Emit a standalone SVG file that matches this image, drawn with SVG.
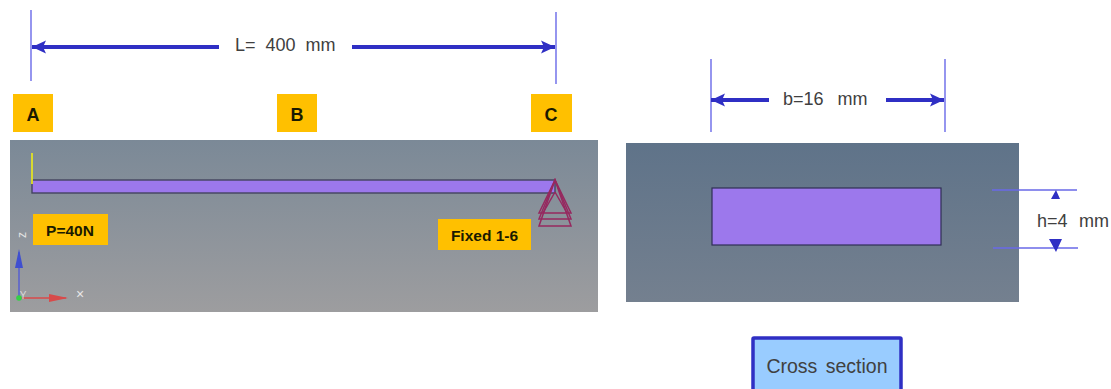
<svg xmlns="http://www.w3.org/2000/svg" width="1111" height="389" viewBox="0 0 1111 389">
<defs>
<linearGradient id="g1" x1="0" y1="0" x2="0" y2="1"><stop offset="0" stop-color="#7b8997"/><stop offset="1" stop-color="#9d9d9f"/></linearGradient>
<linearGradient id="g2" x1="0" y1="0" x2="0" y2="1"><stop offset="0" stop-color="#5f7389"/><stop offset="1" stop-color="#74808f"/></linearGradient>
<marker id="ah" markerUnits="userSpaceOnUse" markerWidth="15" markerHeight="14" refX="14" refY="7" orient="auto-start-reverse"><path d="M0 0.5L14 7L0 13.5L3 7Z" fill="#2f2fc4"/></marker>
</defs>
<style>
text{font-family:"Liberation Sans",Arial,sans-serif}
.lbl{fill:#404040;font-size:18px}
.tag{fill:#1a1a00;font-weight:bold;text-anchor:middle}
.box{fill:#ffc000}
.thin{stroke:#6a6ae8;stroke-width:1.4;fill:none}
.dim{stroke:#2f2fc4;stroke-width:4;fill:none}
.sup{stroke:#96285f;stroke-width:1.5;fill:none}
</style>
<g id="beam-view">
<rect x="10" y="140" width="588" height="172" fill="url(#g1)"/>
<rect x="32" y="180" width="523" height="13" fill="#9c78ec" stroke="#44445f" stroke-width="1.4"/>
</g>
<g id="support">
<path class="sup" d="M555 180L539 213H571Z"/><path class="sup" d="M555 180L539 219H571Z"/><path class="sup" d="M555 180L539 226H571Z"/><path class="sup" d="M555 192L543 213"/><path class="sup" d="M555 192L567 213"/>
</g>
<g id="load"><path d="M32 153V184" stroke="#e2e225" stroke-width="1.8"/></g>
<g id="axes">
<path d="M19 297V252" stroke="#4d57d8" stroke-width="1.3"/><path d="M19 249L15 268H23Z" fill="#3f4fd0"/>
<path d="M19 298H66" stroke="#d84a4a" stroke-width="1.3"/><path d="M68 298L49 294V302Z" fill="#d84a4a"/>
<circle cx="19" cy="298" r="2.8" fill="#35d045"/>
<text x="22" y="241" font-size="12" fill="#e4e4e4" text-anchor="middle" transform="rotate(-90 21 236)">z</text>
<text x="23" y="299" font-size="10" fill="#d8d8d8" text-anchor="middle">Y</text>
<text x="80" y="299" font-size="14" fill="#e8e8e8" text-anchor="middle">×</text>
</g>
<g id="node-a"><rect class="box" x="13" y="94" width="40" height="38"/><text class="tag" x="33" y="121" font-size="18">A</text></g>
<g id="node-b"><rect class="box" x="277" y="94" width="40" height="38"/><text class="tag" x="297" y="121" font-size="18">B</text></g>
<g id="node-c"><rect class="box" x="531" y="94" width="41" height="38"/><text class="tag" x="551" y="121" font-size="18">C</text></g>
<g id="node-p"><rect class="box" x="33" y="214" width="75" height="31"/><text class="tag" x="70" y="235.500" font-size="15.500">P=40N</text></g>
<g id="node-fixed"><rect class="box" x="438" y="219" width="93" height="31"/><text class="tag" x="484.500" y="240.500" font-size="15.500">Fixed 1-6</text></g>
<g id="section-view">
<rect x="626" y="143" width="393" height="159" fill="url(#g2)"/>
<rect x="712" y="188" width="229" height="57" fill="#9c78ec" stroke="#2f2f55" stroke-width="1.2"/>
</g>
<g id="connectors">
<path class="thin" d="M31 10V81M556 12V84M711 59V132M945 59V132M992 190H1077M993 248H1078"/>
<path class="dim" d="M219 47H32" marker-end="url(#ah)"/>
<path class="dim" d="M352 47H555" marker-end="url(#ah)"/>
<path class="dim" d="M769 100H711" marker-end="url(#ah)"/>
<path class="dim" d="M886 100H944" marker-end="url(#ah)"/>
<path d="M1056 190L1051 199H1060Z M1049 239H1062L1056 252Z" fill="#2f2fc4"/>
</g>
<g id="labels">
<text class="lbl" x="235" y="51" word-spacing="5">L= 400 mm</text>
<text class="lbl" x="783" y="105" word-spacing="9">b=16 mm</text>
<text class="lbl" x="1037" y="227" word-spacing="6.500">h=4 mm</text>
</g>
<g id="node-cross"><rect x="753" y="338" width="148" height="56" fill="#99ccff" stroke="#2f2fc4" stroke-width="3.5" rx="1"/><text x="827" y="373" font-size="19.500" fill="#404040" text-anchor="middle" word-spacing="3">Cross section</text></g>
</svg>
